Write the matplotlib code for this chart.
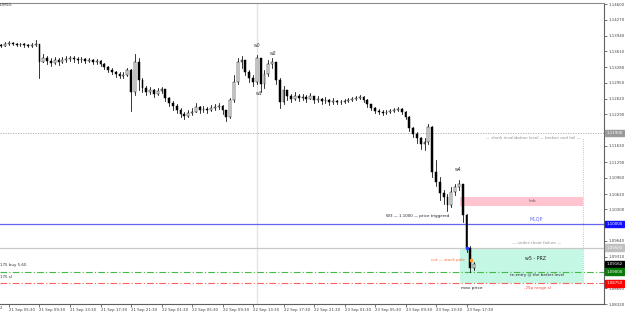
import matplotlib
matplotlib.use("Agg")
import matplotlib.pyplot as plt
import matplotlib.transforms as mtransforms
from matplotlib.patches import Rectangle
import numpy as np

# M15 chart, drawn here as 30-minute candles; time = hours after 21 Sep 05:30
bar_hours = np.arange(125) * 0.5 - 1.0

closes = [1.1372, 1.1377, 1.1379, 1.1377, 1.1374, 1.1377, 1.1374, 1.1372, 1.1374, 1.1377,
          1.1339, 1.1347, 1.1341, 1.1337, 1.1343, 1.1339, 1.1343, 1.1345, 1.1347, 1.1345,
          1.1343, 1.1345, 1.1341, 1.1343, 1.1339, 1.1341, 1.1335, 1.1328, 1.1322, 1.1318,
          1.1314, 1.1310, 1.1312, 1.1322, 1.1276, 1.1339, 1.1301, 1.1284, 1.1276, 1.1280,
          1.1272, 1.1278, 1.1282, 1.1264, 1.1253, 1.1247, 1.1239, 1.1230, 1.1226, 1.1232,
          1.1234, 1.1245, 1.1239, 1.1241, 1.1239, 1.1243, 1.1245, 1.1247, 1.1239, 1.1224,
          1.1259, 1.1297, 1.1339, 1.1343, 1.1318, 1.1305, 1.1297, 1.1347, 1.1293, 1.1314,
          1.1335, 1.1339, 1.1301, 1.1255, 1.1280, 1.1268, 1.1261, 1.1268, 1.1264, 1.1266,
          1.1261, 1.1268, 1.1259, 1.1261, 1.1257, 1.1259, 1.1255, 1.1257, 1.1255, 1.1255,
          1.1257, 1.1259, 1.1261, 1.1264, 1.1266, 1.1259, 1.1251, 1.1243, 1.1236, 1.1234,
          1.1232, 1.1234, 1.1236, 1.1239, 1.1241, 1.1234, 1.1224, 1.1201, 1.1188, 1.1180,
          1.1167, 1.1172, 1.1203, 1.1109, 1.1088, 1.1065, 1.1055, 1.1040, 1.1067, 1.1076,
          1.1084, 1.1019, 1.0949, 1.0908, 1.0916]

highs = [1.1377, 1.1381, 1.1383, 1.1381, 1.1379, 1.1379, 1.1379, 1.1377, 1.1379, 1.1385,
         1.1377, 1.1356, 1.1351, 1.1347, 1.1349, 1.1347, 1.1349, 1.1351, 1.1351, 1.1351,
         1.1349, 1.1349, 1.1347, 1.1347, 1.1345, 1.1345, 1.1343, 1.1337, 1.1330, 1.1326,
         1.1320, 1.1318, 1.1318, 1.1326, 1.1324, 1.1356, 1.1347, 1.1305, 1.1289, 1.1287,
         1.1282, 1.1284, 1.1287, 1.1280, 1.1266, 1.1257, 1.1251, 1.1243, 1.1234, 1.1239,
         1.1243, 1.1253, 1.1247, 1.1247, 1.1245, 1.1249, 1.1251, 1.1253, 1.1249, 1.1239,
         1.1264, 1.1312, 1.1347, 1.1351, 1.1339, 1.1322, 1.1312, 1.1353, 1.1343, 1.1322,
         1.1343, 1.1347, 1.1339, 1.1305, 1.1289, 1.1280, 1.1272, 1.1276, 1.1272, 1.1272,
         1.1270, 1.1274, 1.1268, 1.1268, 1.1264, 1.1266, 1.1261, 1.1264, 1.1259, 1.1259,
         1.1261, 1.1264, 1.1266, 1.1268, 1.1270, 1.1268, 1.1261, 1.1251, 1.1245, 1.1241,
         1.1239, 1.1239, 1.1241, 1.1243, 1.1245, 1.1243, 1.1236, 1.1226, 1.1203, 1.1193,
         1.1182, 1.1180, 1.1209, 1.1205, 1.1134, 1.1097, 1.1071, 1.1063, 1.1076, 1.1084,
         1.1092, 1.1082, 1.1021, 1.0953, 1.0920]

lows = [1.1370, 1.1372, 1.1374, 1.1374, 1.1372, 1.1372, 1.1370, 1.1370, 1.1370, 1.1372,
        1.1305, 1.1339, 1.1335, 1.1330, 1.1335, 1.1333, 1.1337, 1.1339, 1.1341, 1.1339,
        1.1337, 1.1339, 1.1337, 1.1339, 1.1335, 1.1335, 1.1330, 1.1324, 1.1318, 1.1314,
        1.1307, 1.1305, 1.1305, 1.1310, 1.1236, 1.1270, 1.1280, 1.1276, 1.1270, 1.1272,
        1.1266, 1.1270, 1.1274, 1.1257, 1.1247, 1.1239, 1.1232, 1.1224, 1.1220, 1.1224,
        1.1228, 1.1234, 1.1232, 1.1234, 1.1232, 1.1236, 1.1239, 1.1241, 1.1230, 1.1216,
        1.1222, 1.1255, 1.1293, 1.1326, 1.1312, 1.1297, 1.1289, 1.1293, 1.1276, 1.1284,
        1.1310, 1.1326, 1.1293, 1.1243, 1.1251, 1.1259, 1.1255, 1.1259, 1.1257, 1.1259,
        1.1255, 1.1261, 1.1253, 1.1255, 1.1251, 1.1253, 1.1249, 1.1251, 1.1251, 1.1251,
        1.1253, 1.1255, 1.1257, 1.1259, 1.1261, 1.1255, 1.1245, 1.1239, 1.1232, 1.1230,
        1.1228, 1.1230, 1.1232, 1.1234, 1.1236, 1.1230, 1.1220, 1.1195, 1.1182, 1.1169,
        1.1157, 1.1155, 1.1167, 1.1097, 1.1078, 1.1050, 1.1042, 1.1027, 1.1036, 1.1061,
        1.1071, 1.1004, 1.0940, 1.0898, 1.0904]

first_open = 1.1374

time_ticks = [0, 4, 8, 12, 16, 20, 24, 28, 32, 36, 40, 44, 48, 52, 56, 60]
time_labels = ["21 Sep 05:30", "21 Sep 09:30", "21 Sep 13:30", "21 Sep 17:30", "21 Sep 21:30",
               "22 Sep 01:30", "22 Sep 05:30", "22 Sep 09:30", "22 Sep 13:30", "22 Sep 17:30",
               "22 Sep 21:30", "23 Sep 01:30", "23 Sep 05:30", "23 Sep 09:30", "23 Sep 13:30",
               "23 Sep 17:30"]

price_ticks = [1.14600, 1.14270, 1.13940, 1.13610, 1.13280, 1.12950, 1.12620, 1.12290,
               1.11630, 1.11290, 1.10960, 1.10620, 1.10300, 1.09640, 1.09310, 1.08650, 1.08320]
price_labels = ["1.14600", "1.14270", "1.13940", "1.13610", "1.13280", "1.12950", "1.12620",
                "1.12290", "1.11630", "1.11290", "1.10960", "1.10620", "1.10300", "1.09640",
                "1.09310", "1.08650", "1.08320"]

# levels
shark_level = 1.11900
mlqp_level = 1.10000
undershoot_level = 1.09500
bid_price = 1.09162
buy_level = 1.09000
sl_level = 1.08750
imb_top, imb_bot = 1.1057, 1.1038
zone_start, zone_end = 59.15, 75.3
separator_hour = 32.5

fig = plt.figure(figsize=(6.25, 3.16), dpi=100)
ax = fig.add_axes([0, 12 / 316, 604 / 625, 1 - 15 / 316])
ax.set_xlim(-1.18, 78.03)
ax.set_ylim(1.0833, 1.14621)

# period separator
ax.axvline(separator_hour, color="#e4e4e4", lw=1, zorder=0)

# zones
ax.add_patch(Rectangle((zone_start, imb_bot), zone_end - zone_start, imb_top - imb_bot,
                       facecolor="#ffc4d0", edgecolor="none", zorder=1))
ax.add_patch(Rectangle((zone_start, sl_level), zone_end - zone_start, undershoot_level - sl_level,
                       facecolor="#c4f7e4", edgecolor="none", zorder=1))
ax.plot([zone_end, zone_end], [sl_level, 1.1180], color="#b0b0b0", lw=0.6, ls=":", zorder=1)

# horizontal levels
ax.axhline(shark_level, color="#a8a8a8", lw=0.6, ls=(0, (1.5, 1.5)), zorder=1)
ax.axhline(mlqp_level, color="#6464f0", lw=0.9, zorder=1)
ax.axhline(undershoot_level, color="#c8c8c8", lw=0.9, zorder=1)
ax.axhline(buy_level, color="#44bb44", lw=0.8, ls=(0, (6, 2, 1, 2)), zorder=1)
ax.axhline(sl_level, color="#ff6060", lw=0.8, ls=(0, (6, 2, 1, 2)), zorder=1)

# candles
opens = [first_open] + closes[:-1]
for t, o, h, l, c in zip(bar_hours, opens, highs, lows, closes):
    h = max(h, o, c)
    l = min(l, o, c)
    ax.plot([t, t], [l, h], color="black", lw=0.55, zorder=3)
    body = max(abs(c - o), 0.00006)
    if c >= o:
        ax.bar(t, body, bottom=min(o, c), width=0.24, color="white", edgecolor="black",
               lw=0.35, zorder=4)
    else:
        ax.bar(t, body, bottom=min(o, c), width=0.24, color="black", edgecolor="black",
               lw=0.35, zorder=4)

# small markers near the last bars
ax.plot(60.07, 1.0949, marker="s", ms=2, color="#2040ff", zorder=5)
ax.plot(60.6, 1.0925, marker="s", ms=1.5, color="#ff9a30", zorder=5)

# wave labels
fs = 3.3
ax.text(32.5, 1.1374, "w0", fontsize=fs, ha="center", va="center", color="#333333")
ax.text(34.6, 1.1356, "w2", fontsize=fs, ha="center", va="center", color="#333333")
ax.text(32.8, 1.1272, "w1", fontsize=fs, ha="center", va="center", color="#333333")
ax.text(58.9, 1.1113, "w4", fontsize=fs, ha="center", va="center", color="#333333")

# annotations
small = 2.9
ax.text(68.7, 1.1180, "\u2014 shark invalidation level \u2014 broken and fail \u2014", fontsize=small,
        ha="center", va="center", color="#909090")
ax.text(68.7, 1.1047, "Imb", fontsize=small, ha="center", va="center", color="#555555")
ax.text(69.2, 1.1009, "MLQP", fontsize=3.4, ha="center", va="center", color="#6a6aff")
ax.text(57.8, 1.1017, "W3 \u2014 1.1000 \u2014 price triggered", fontsize=small, ha="right",
        va="center", color="#222222")
ax.text(69.2, 1.0959, "\u2014 under-shoot failure \u2014", fontsize=small, ha="center", va="center",
        color="#909090")
ax.text(69.0, 1.0928, "w5 - PRZ", fontsize=3.4, ha="center", va="center", color="#222222")
ax.text(69.2, 1.0893, "re-entry @ the better level", fontsize=small, ha="center", va="center",
        color="#222222")
ax.text(69.3, 1.0866, "-25p range sl", fontsize=small, ha="center", va="center", color="#ff4040")
ax.text(60.7, 1.0866, "max price", fontsize=3.2, ha="center", va="center", color="#222222")
ax.text(59.8, 1.0925, "cut \u2014 stack pole", fontsize=small, ha="right", va="center",
        color="#ff6a30")
ax.text(-1.18, 1.0914, "175 buy 5.60", fontsize=small, ha="left", va="center", color="#333333")
ax.text(-1.18, 1.0889, "175 sl", fontsize=small, ha="left", va="center", color="#333333")
fig.text(0.0, 1 - 5 / 316, "D,M15", fontsize=small, ha="left", va="center", color="#333333")

# axes styling
ax.spines["left"].set_visible(False)
ax.spines["top"].set_color("#8c8c8c")
ax.spines["right"].set_color("#606060")
ax.spines["bottom"].set_color("#606060")
for side in ["top", "right", "bottom"]:
    ax.spines[side].set_linewidth(0.8)

ax.yaxis.tick_right()
ax.set_yticks(price_ticks)
ax.set_yticklabels(price_labels)
ax.tick_params(axis="y", length=2, width=0.5, pad=1, labelsize=2.8, colors="#404040")

ax.set_xticks(time_ticks)
ax.set_xticklabels(time_labels, ha="left")
ax.tick_params(axis="x", length=2, width=0.5, pad=1, labelsize=2.8, colors="#404040")
fig.text(0.0, 1 - 308 / 316, "2", fontsize=2.8, ha="left", va="center", color="#404040")

# highlighted price labels on the right scale
trans = mtransforms.blended_transform_factory(ax.transAxes, ax.transData)
boxes = [(shark_level, "1.11900", "#9a9a9a"), (mlqp_level, "1.10000", "#1010ff"),
         (undershoot_level, "1.09500", "#c0c0c0"), (bid_price, "1.09162", "#000000"),
         (buy_level, "1.09000", "#0a7a0a"), (sl_level, "1.08750", "#ff0000")]
for level, txt, col in boxes:
    ax.text(1.004, level, txt, transform=trans, fontsize=2.8, ha="left", va="center",
            color="white", clip_on=False,
            bbox=dict(boxstyle="square,pad=0.3", facecolor=col, edgecolor=col))

fig.savefig("out.png", dpi=100)
